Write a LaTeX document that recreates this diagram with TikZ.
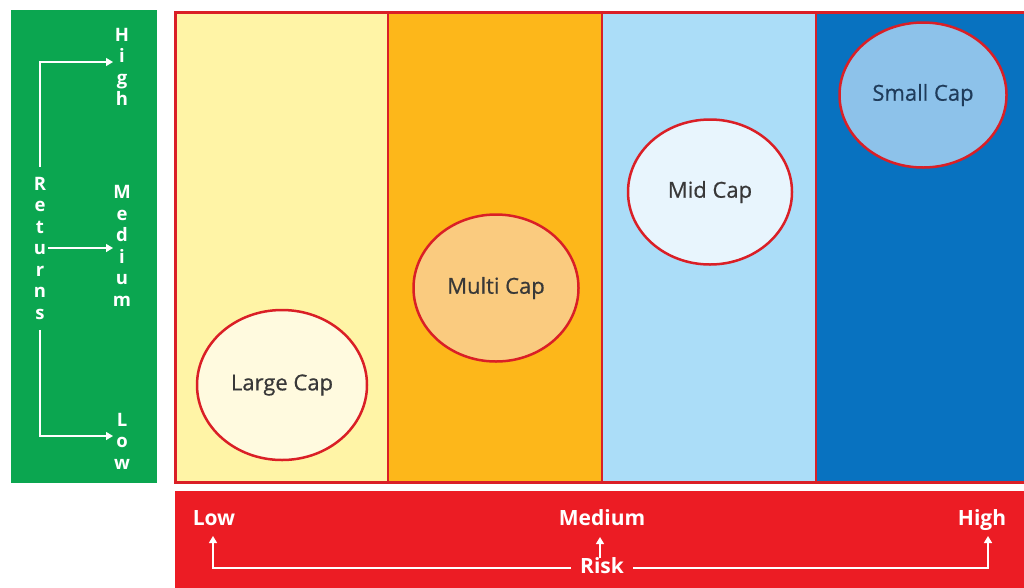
\documentclass[tikz,border=0pt]{standalone}
\usepackage{fontspec}
\setmainfont{Open Sans}
\newfontfamily\bubblefont[FakeBold=0.6]{Open Sans}
\usetikzlibrary{arrows.meta,shapes.geometric}
\definecolor{retgreen}{HTML}{0BA650}
\definecolor{riskred}{HTML}{EC1C24}
\definecolor{framered}{HTML}{DA1F26}
\definecolor{colyellow}{HTML}{FFF4A6}
\definecolor{colorange}{HTML}{FDB71A}
\definecolor{collight}{HTML}{ABDDF8}
\definecolor{coldark}{HTML}{0872C0}
\definecolor{fillyellow}{HTML}{FFFADF}
\definecolor{fillorange}{HTML}{FACB7F}
\definecolor{filllight}{HTML}{E8F5FD}
\definecolor{filldark}{HTML}{8DC2EA}
\definecolor{captext}{HTML}{383838}
\definecolor{smalltext}{HTML}{1F3B5A}
\begin{document}
\begin{tikzpicture}[x=1pt,y=-1pt,
  frame/.style={draw=framered,line width=3pt},
  divider/.style={draw=framered,line width=2.5pt},
  bubble/.style={ellipse,draw=framered,line width=2.5pt,text=captext,
    font=\bubblefont\fontsize{22}{26}\selectfont,inner sep=0pt},
  stack/.style={align=center,text=white,inner sep=1pt,
    font=\bfseries\fontsize{18.5}{21.5}\selectfont},
  risklabel/.style={text=white,inner sep=2pt,text height=15pt,text depth=4pt,
    font=\bfseries\fontsize{21}{24}\selectfont},
  axis/.style={draw=white,line width=1.4pt},
  tip/.style={-{Triangle[length=7pt,width=8pt]}}
]
\useasboundingbox (0,0) rectangle (1024,587);
\fill[white] (0,0) rectangle (1024,587);

% returns panel
\fill[retgreen] (11,10) rectangle (157,483);

% the four risk bands
\fill[colyellow] (175,12) rectangle (388,482);
\fill[colorange] (388,12) rectangle (602,482);
\fill[collight]  (602,12) rectangle (816,482);
\fill[coldark]   (816,12) rectangle (1030,482);
\draw[divider] (388,12) -- (388,482);
\draw[divider] (602,12) -- (602,482);
\draw[divider] (816,12) -- (816,482);
\draw[frame] (175,12) rectangle (1030,482);

% risk bar
\fill[riskred] (175,491) rectangle (1030,600);

% market-cap bubbles
\node[bubble,fill=fillyellow,minimum width=170pt,minimum height=150pt] (large) at (282,385) {Large Cap};
\node[bubble,fill=fillorange,minimum width=165pt,minimum height=147pt] (multi) at (496,288) {Multi Cap};
\node[bubble,fill=filllight,minimum width=164pt,minimum height=145pt] (mid) at (710,192) {Mid Cap};
\node[bubble,fill=filldark,text=smalltext,minimum width=167pt,minimum height=145pt] (small) at (923,95) {Small Cap};

% returns axis
\node[stack] (retHigh) at (122,67) {H\\i\\g\\h};
\node[stack] (retMed) at (122,246) {M\\e\\d\\i\\u\\m};
\node[stack] (retLow) at (122,441) {L\\o\\w};
\node[stack] (ret) at (40,248) {R\\e\\t\\u\\r\\n\\s};
\coordinate (hiEnd) at (113,62);
\coordinate (medEnd) at (113,248);
\coordinate (lowEnd) at (113,436);
\draw[axis,tip] ([yshift=9pt]ret.north) -- (ret.north |- hiEnd) -- (hiEnd);
\draw[axis,tip] (48,248) -- (medEnd);
\draw[axis,tip] ([yshift=-10pt]ret.south) -- (ret.south |- lowEnd) -- (lowEnd);

% risk axis
\node[risklabel] (riskLow) at (214,520) {Low};
\node[risklabel] (riskMed) at (602,520) {Medium};
\node[risklabel] (riskHigh) at (982,520) {High};
\node[risklabel,inner xsep=9pt] (risk) at (602,568) {Risk};
\coordinate (lowTip) at (213,536);
\coordinate (medTip) at (600,537);
\coordinate (highTip) at (988,536);
\draw[axis,tip] (risk.west) -- (risk.west -| lowTip) -- (lowTip);
\draw[axis,tip] (risk.east) -- (risk.east -| highTip) -- (highTip);
\draw[axis,tip] ([yshift=-2pt]risk.north -| medTip) -- (medTip);
\end{tikzpicture}
\end{document}
